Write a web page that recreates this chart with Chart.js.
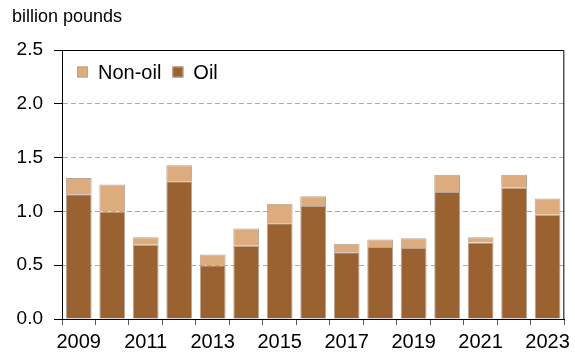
<!DOCTYPE html>
<html>
<head>
<meta charset="utf-8">
<script src="https://cdn.jsdelivr.net/npm/chart.js@4/dist/chart.umd.min.js"></script>
<style>
  html, body { margin: 0; padding: 0; background: #fff; }
  #wrap { width: 575px; height: 353px; position: relative; }
</style>
</head>
<body>
<div id="wrap"><canvas id="chart"></canvas></div>
<script>
const years = ["2009", "2010", "2011", "2012", "2013", "2014", "2015", "2016", "2017", "2018", "2019", "2020", "2021", "2022", "2023"];
const oil = [1.16, 1.00, 0.69, 1.28, 0.50, 0.68, 0.89, 1.05, 0.62, 0.67, 0.66, 1.18, 0.71, 1.22, 0.97];
const nonOil = [0.15, 0.25, 0.07, 0.15, 0.10, 0.16, 0.18, 0.09, 0.08, 0.07, 0.09, 0.16, 0.05, 0.12, 0.15];
const yTicks = [0, 0.5, 1.0, 1.5, 2.0, 2.5];
const unitLabel = "billion pounds";

const oilColor = "rgb(154,98,48)";
const nonOilColor = "rgb(220,171,126)";
const edgeColor = "#b8a493";
const font = "'Liberation Sans', Arial, sans-serif";

// title, box border and in-plot legend
const decor = {
  id: "decor",
  afterDraw(chart) {
    const ctx = chart.ctx;
    const a = chart.chartArea;
    ctx.save();
    ctx.strokeStyle = "#000";
    ctx.lineWidth = 1;
    ctx.setLineDash([]);
    ctx.beginPath();
    ctx.moveTo(a.left, a.top + 0.5);
    ctx.lineTo(a.right - 0.5, a.top + 0.5);
    ctx.lineTo(a.right - 0.5, a.bottom);
    ctx.stroke();

    ctx.fillStyle = "#000";
    ctx.font = "18px " + font;
    ctx.textBaseline = "alphabetic";
    ctx.textAlign = "left";
    ctx.fillText(unitLabel, 12, 22);

    ctx.font = "20px " + font;
    ctx.textBaseline = "middle";
    let x = a.left + 15;
    const y = a.top + 22;
    const sets = chart.data.datasets.slice().reverse();
    sets.forEach((ds) => {
      ctx.fillStyle = ds.backgroundColor;
      ctx.fillRect(x, y - 5.5, 11, 11);
      ctx.strokeStyle = edgeColor;
      ctx.strokeRect(x + 0.5, y - 5, 10, 10);
      ctx.fillStyle = "#000";
      ctx.fillText(ds.label, x + 21, y + 1);
      x += 21 + ctx.measureText(ds.label).width + 11;
    });
    ctx.restore();
  },
};

new Chart(document.getElementById("chart").getContext("2d"), {
  type: "bar",
  data: {
    labels: years,
    datasets: [
      {
        label: "Oil",
        data: oil,
        backgroundColor: oilColor,
        borderColor: edgeColor,
        borderWidth: 1,
      },
      {
        label: "Non-oil",
        data: nonOil,
        backgroundColor: nonOilColor,
        borderColor: edgeColor,
        borderWidth: 1,
      },
    ],
  },
  options: {
    responsive: true,
    maintainAspectRatio: false,
    animation: false,
    devicePixelRatio: 1,
    layout: { padding: { top: 50, right: 5, left: 0, bottom: 0 } },
    datasets: { bar: { categoryPercentage: 1, barPercentage: 0.77 } },
    plugins: {
      legend: { display: false },
      tooltip: { enabled: false },
    },
    scales: {
      x: {
        stacked: true,
        afterFit: (s) => { s.height = 34; },
        grid: {
          display: true,
          drawOnChartArea: false,
          offset: true,
          tickLength: 6,
          tickColor: "#555",
        },
        border: { color: "#000", width: 1 },
        ticks: {
          autoSkip: false,
          maxRotation: 0,
          padding: 5,
          color: "#000",
          font: { family: font, size: 20 },
          callback: (v, i) => (i % 2 === 0 ? years[i] : ""),
        },
      },
      y: {
        stacked: true,
        min: 0,
        max: 2.5,
        afterFit: (s) => { s.width = 62; },
        afterBuildTicks: (s) => { s.ticks = yTicks.map((v) => ({ value: v })); },
        grid: {
          color: (c) => (c.tick && (c.tick.value === 0 || c.tick.value === 2.5) ? "rgba(0,0,0,0)" : "#aaa"),
          tickColor: "#000",
          tickLength: 8,
          tickBorderDash: [],
        },
        border: { color: "#000", width: 1, dash: [5, 3] },
        ticks: {
          padding: 11,
          color: "#000",
          font: { family: font, size: 19 },
          callback: (v) => v.toFixed(1),
        },
      },
    },
  },
  plugins: [decor],
});
</script>
</body>
</html>
